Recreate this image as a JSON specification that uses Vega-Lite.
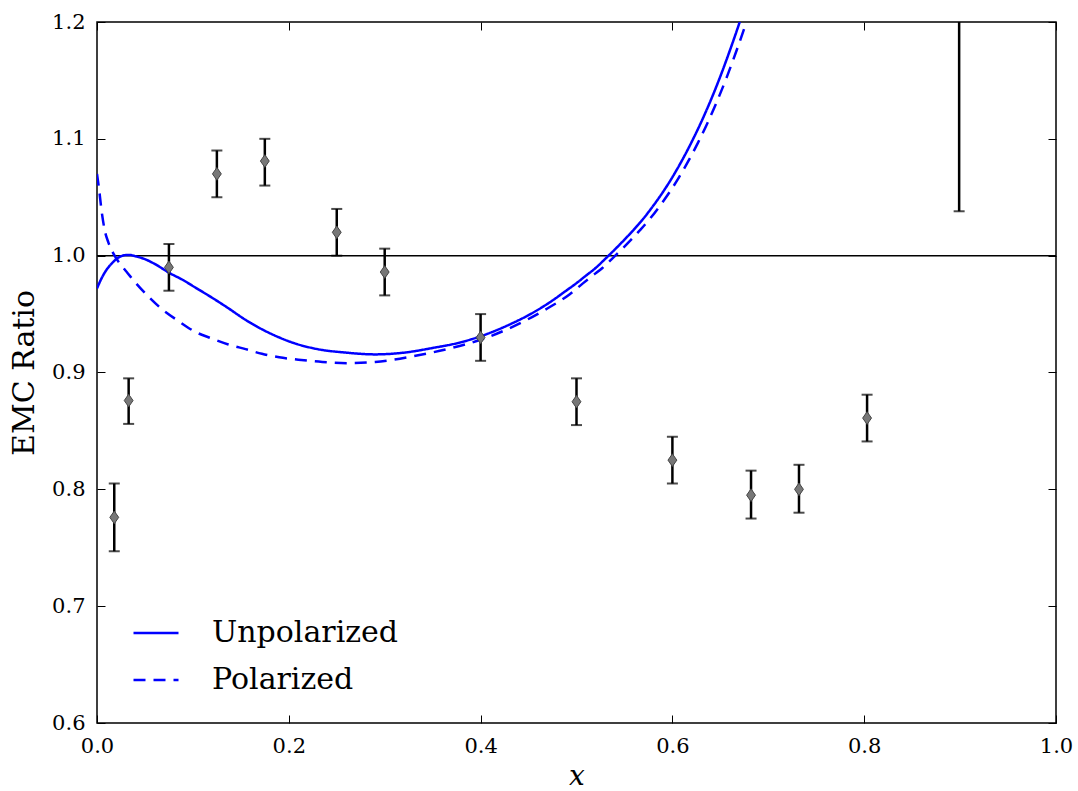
{
  "$schema": "https://vega.github.io/schema/vega-lite/v6.json",
  "width": 959,
  "height": 701,
  "autosize": {"type": "none"},
  "padding": {"left": 97, "top": 22, "right": 22, "bottom": 68},
  "background": "white",
  "config": {
    "view": {"stroke": "black", "strokeWidth": 1.5},
    "font": "DejaVu Serif",
    "axis": {"grid": false, "domain": false, "tickColor": "black", "tickWidth": 1, "labelColor": "black", "titleColor": "black", "labelFont": "DejaVu Serif", "titleFont": "DejaVu Serif", "titleFontWeight": "normal", "labelFlush": false, "labelOverlap": false}
  },
  "datasets": {
    "points": [
      {"x": 0.018, "y": 0.776, "lo": 0.747, "hi": 0.805},
      {"x": 0.033, "y": 0.876, "lo": 0.856, "hi": 0.895},
      {"x": 0.075, "y": 0.990, "lo": 0.970, "hi": 1.010},
      {"x": 0.125, "y": 1.070, "lo": 1.050, "hi": 1.090},
      {"x": 0.175, "y": 1.081, "lo": 1.060, "hi": 1.100},
      {"x": 0.250, "y": 1.020, "lo": 1.000, "hi": 1.040},
      {"x": 0.300, "y": 0.986, "lo": 0.966, "hi": 1.006},
      {"x": 0.400, "y": 0.930, "lo": 0.910, "hi": 0.950},
      {"x": 0.500, "y": 0.875, "lo": 0.855, "hi": 0.895},
      {"x": 0.600, "y": 0.825, "lo": 0.805, "hi": 0.845},
      {"x": 0.682, "y": 0.795, "lo": 0.775, "hi": 0.816},
      {"x": 0.732, "y": 0.800, "lo": 0.780, "hi": 0.821},
      {"x": 0.803, "y": 0.861, "lo": 0.841, "hi": 0.881},
      {"x": 0.899, "y": 1.300, "lo": 1.038, "hi": 1.562}
    ],
    "curves": [
      {"model": "Unpolarized", "x": 0.0, "y": 0.972},
      {"model": "Unpolarized", "x": 0.005, "y": 0.981},
      {"model": "Unpolarized", "x": 0.01, "y": 0.988},
      {"model": "Unpolarized", "x": 0.015, "y": 0.993},
      {"model": "Unpolarized", "x": 0.02, "y": 0.997},
      {"model": "Unpolarized", "x": 0.025, "y": 0.9995},
      {"model": "Unpolarized", "x": 0.03, "y": 1.0005},
      {"model": "Unpolarized", "x": 0.035, "y": 1.0005},
      {"model": "Unpolarized", "x": 0.04, "y": 0.9995},
      {"model": "Unpolarized", "x": 0.05, "y": 0.997},
      {"model": "Unpolarized", "x": 0.06, "y": 0.993},
      {"model": "Unpolarized", "x": 0.076, "y": 0.985},
      {"model": "Unpolarized", "x": 0.09, "y": 0.979},
      {"model": "Unpolarized", "x": 0.102, "y": 0.973},
      {"model": "Unpolarized", "x": 0.12, "y": 0.964},
      {"model": "Unpolarized", "x": 0.137, "y": 0.955},
      {"model": "Unpolarized", "x": 0.155, "y": 0.945},
      {"model": "Unpolarized", "x": 0.172, "y": 0.937},
      {"model": "Unpolarized", "x": 0.19, "y": 0.930},
      {"model": "Unpolarized", "x": 0.206, "y": 0.925},
      {"model": "Unpolarized", "x": 0.23, "y": 0.920},
      {"model": "Unpolarized", "x": 0.26, "y": 0.917},
      {"model": "Unpolarized", "x": 0.29, "y": 0.9155},
      {"model": "Unpolarized", "x": 0.32, "y": 0.917},
      {"model": "Unpolarized", "x": 0.35, "y": 0.921},
      {"model": "Unpolarized", "x": 0.38, "y": 0.926},
      {"model": "Unpolarized", "x": 0.40, "y": 0.931},
      {"model": "Unpolarized", "x": 0.43, "y": 0.941},
      {"model": "Unpolarized", "x": 0.452, "y": 0.950},
      {"model": "Unpolarized", "x": 0.472, "y": 0.960},
      {"model": "Unpolarized", "x": 0.49, "y": 0.9705},
      {"model": "Unpolarized", "x": 0.50, "y": 0.9765},
      {"model": "Unpolarized", "x": 0.51, "y": 0.983},
      {"model": "Unpolarized", "x": 0.52, "y": 0.9895},
      {"model": "Unpolarized", "x": 0.53, "y": 0.9973},
      {"model": "Unpolarized", "x": 0.54, "y": 1.0053},
      {"model": "Unpolarized", "x": 0.55, "y": 1.0137},
      {"model": "Unpolarized", "x": 0.56, "y": 1.0225},
      {"model": "Unpolarized", "x": 0.57, "y": 1.0320},
      {"model": "Unpolarized", "x": 0.58, "y": 1.0427},
      {"model": "Unpolarized", "x": 0.59, "y": 1.0543},
      {"model": "Unpolarized", "x": 0.60, "y": 1.0672},
      {"model": "Unpolarized", "x": 0.61, "y": 1.0815},
      {"model": "Unpolarized", "x": 0.62, "y": 1.0972},
      {"model": "Unpolarized", "x": 0.63, "y": 1.1143},
      {"model": "Unpolarized", "x": 0.64, "y": 1.1330},
      {"model": "Unpolarized", "x": 0.65, "y": 1.1535},
      {"model": "Unpolarized", "x": 0.66, "y": 1.1758},
      {"model": "Unpolarized", "x": 0.67, "y": 1.1995},
      {"model": "Unpolarized", "x": 0.68, "y": 1.2250},
      {"model": "Polarized", "x": 0.0, "y": 1.070},
      {"model": "Polarized", "x": 0.002, "y": 1.058},
      {"model": "Polarized", "x": 0.005, "y": 1.037},
      {"model": "Polarized", "x": 0.008, "y": 1.022},
      {"model": "Polarized", "x": 0.012, "y": 1.011},
      {"model": "Polarized", "x": 0.017, "y": 1.002},
      {"model": "Polarized", "x": 0.025, "y": 0.992},
      {"model": "Polarized", "x": 0.032, "y": 0.985},
      {"model": "Polarized", "x": 0.04, "y": 0.977},
      {"model": "Polarized", "x": 0.05, "y": 0.968},
      {"model": "Polarized", "x": 0.068, "y": 0.954},
      {"model": "Polarized", "x": 0.085, "y": 0.944},
      {"model": "Polarized", "x": 0.102, "y": 0.935},
      {"model": "Polarized", "x": 0.12, "y": 0.929},
      {"model": "Polarized", "x": 0.137, "y": 0.924},
      {"model": "Polarized", "x": 0.155, "y": 0.920},
      {"model": "Polarized", "x": 0.172, "y": 0.916},
      {"model": "Polarized", "x": 0.19, "y": 0.913},
      {"model": "Polarized", "x": 0.21, "y": 0.911},
      {"model": "Polarized", "x": 0.235, "y": 0.909},
      {"model": "Polarized", "x": 0.261, "y": 0.908},
      {"model": "Polarized", "x": 0.29, "y": 0.909},
      {"model": "Polarized", "x": 0.33, "y": 0.914},
      {"model": "Polarized", "x": 0.365, "y": 0.920},
      {"model": "Polarized", "x": 0.40, "y": 0.928},
      {"model": "Polarized", "x": 0.425, "y": 0.936},
      {"model": "Polarized", "x": 0.448, "y": 0.945},
      {"model": "Polarized", "x": 0.47, "y": 0.955},
      {"model": "Polarized", "x": 0.493, "y": 0.967},
      {"model": "Polarized", "x": 0.507, "y": 0.9765},
      {"model": "Polarized", "x": 0.517, "y": 0.983},
      {"model": "Polarized", "x": 0.527, "y": 0.9895},
      {"model": "Polarized", "x": 0.537, "y": 0.9973},
      {"model": "Polarized", "x": 0.547, "y": 1.0053},
      {"model": "Polarized", "x": 0.557, "y": 1.0137},
      {"model": "Polarized", "x": 0.567, "y": 1.0225},
      {"model": "Polarized", "x": 0.577, "y": 1.0320},
      {"model": "Polarized", "x": 0.587, "y": 1.0427},
      {"model": "Polarized", "x": 0.597, "y": 1.0543},
      {"model": "Polarized", "x": 0.607, "y": 1.0672},
      {"model": "Polarized", "x": 0.617, "y": 1.0815},
      {"model": "Polarized", "x": 0.627, "y": 1.0972},
      {"model": "Polarized", "x": 0.637, "y": 1.1143},
      {"model": "Polarized", "x": 0.647, "y": 1.1330},
      {"model": "Polarized", "x": 0.657, "y": 1.1535},
      {"model": "Polarized", "x": 0.667, "y": 1.1758},
      {"model": "Polarized", "x": 0.677, "y": 1.1995},
      {"model": "Polarized", "x": 0.687, "y": 1.2250}
    ],
    "ref": [{"y": 1.0}]
  },
  "layer": [
    {
      "data": {"name": "ref"},
      "mark": {"type": "rule", "color": "black", "strokeWidth": 1.5},
      "encoding": {
        "y": {"field": "y", "type": "quantitative", "scale": {"domain": [0.6, 1.2], "nice": false, "zero": false},
          "axis": {"orient": "left", "values": [0.6, 0.7, 0.8, 0.9, 1.0, 1.1, 1.2], "format": ".1f", "tickSize": -8, "labelPadding": 20, "labelFontSize": 21, "title": "EMC Ratio", "titleFontSize": 30, "titlePadding": 12}
        }
      }
    },
    {
      "data": {"name": "curves"},
      "mark": {"type": "line", "strokeWidth": 2.5, "clip": true, "interpolate": "monotone"},
      "encoding": {
        "x": {"field": "x", "type": "quantitative", "scale": {"domain": [0, 1], "nice": false, "zero": false},
          "axis": {"orient": "bottom", "values": [0, 0.2, 0.4, 0.6, 0.8, 1.0], "format": ".1f", "tickSize": -8, "labelPadding": 20, "labelFontSize": 21, "title": "x", "titleFontSize": 28, "titleFontStyle": "italic", "titlePadding": 6}
        },
        "y": {"field": "y", "type": "quantitative", "axis": null},
        "color": {"field": "model", "type": "nominal", "scale": {"domain": ["Unpolarized", "Polarized"], "range": ["#0000ff", "#0000ff"]},
          "legend": {"title": null, "orient": "none", "legendX": 35, "legendY": 587, "symbolType": "stroke", "symbolSize": 2025, "symbolStrokeWidth": 2.5, "labelFont": "DejaVu Serif", "labelFontSize": 30, "labelColor": "black", "labelOffset": 32, "labelLimit": 400, "rowPadding": 8}
        },
        "strokeDash": {"field": "model", "type": "nominal", "scale": {"domain": ["Unpolarized", "Polarized"], "range": [[1, 0], [12, 8]]},
          "legend": {"title": null, "orient": "none", "legendX": 35, "legendY": 587, "symbolType": "stroke", "symbolSize": 2025, "symbolStrokeWidth": 2.5, "labelFont": "DejaVu Serif", "labelFontSize": 30, "labelColor": "black", "labelOffset": 32, "labelLimit": 400, "rowPadding": 8}
        }
      }
    },
    {
      "data": {"name": "points"},
      "mark": {"type": "rule", "color": "black", "strokeWidth": 2.5, "clip": true},
      "encoding": {
        "x": {"field": "x", "type": "quantitative", "axis": null},
        "y": {"field": "lo", "type": "quantitative", "axis": null},
        "y2": {"field": "hi"}
      }
    },
    {
      "data": {"name": "points"},
      "mark": {"type": "tick", "orient": "horizontal", "color": "black", "size": 11, "thickness": 2, "clip": true},
      "encoding": {
        "x": {"field": "x", "type": "quantitative", "axis": null},
        "y": {"field": "lo", "type": "quantitative", "axis": null}
      }
    },
    {
      "data": {"name": "points"},
      "mark": {"type": "tick", "orient": "horizontal", "color": "black", "size": 11, "thickness": 2, "clip": true},
      "encoding": {
        "x": {"field": "x", "type": "quantitative", "axis": null},
        "y": {"field": "hi", "type": "quantitative", "axis": null}
      }
    },
    {
      "data": {"name": "points"},
      "mark": {"type": "point", "shape": "M0,-1L0.7,0L0,1L-0.7,0Z", "size": 160, "filled": true, "fill": "#777777", "stroke": "#444444", "strokeWidth": 1, "opacity": 1, "clip": true},
      "encoding": {
        "x": {"field": "x", "type": "quantitative", "axis": {"orient": "top", "values": [0, 0.2, 0.4, 0.6, 0.8, 1.0], "tickSize": -8, "labels": false, "title": null}},
        "y": {"field": "y", "type": "quantitative", "axis": {"orient": "right", "values": [0.6, 0.7, 0.8, 0.9, 1.0, 1.1, 1.2], "tickSize": -8, "labels": false, "title": null}}
      }
    }
  ]
}
